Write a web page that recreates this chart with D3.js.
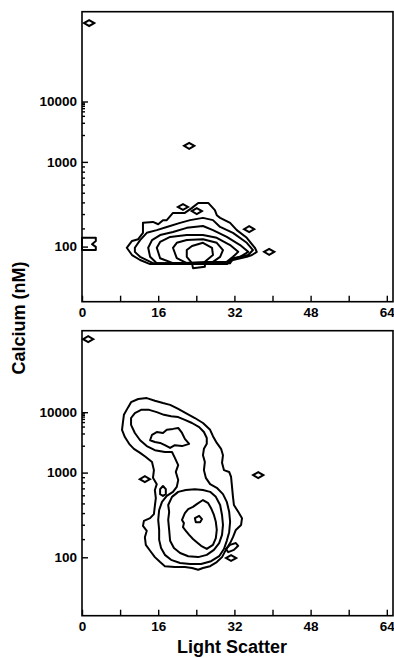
<!DOCTYPE html>
<html>
<head>
<meta charset="utf-8">
<script src="https://cdn.jsdelivr.net/npm/d3@7"></script>
<style>
  body { margin: 0; background: #fff; }
  svg { display: block; }
  .tick text { font-family: "Liberation Sans", Arial, sans-serif; font-weight: bold; font-size: 13.5px; fill: #000; }
  .tick line { stroke: #000; stroke-width: 1.4; }
  .axis-title { font-family: "Liberation Sans", Arial, sans-serif; font-weight: bold; font-size: 18px; fill: #000; }
</style>
</head>
<body>
<div id="chart"></div>
<script>
// axis ticks
const lightScatterTicks = [0, 8, 16, 24, 32, 40, 48, 56, 64];
const lightScatterLabels = [0, 16, 32, 48, 64];
const calciumTicks = [100, 1000, 10000];
const calciumMinorTicks = [200, 300, 400, 500, 600, 700, 800, 900, 2000, 3000, 4000, 5000, 6000, 7000, 8000, 9000];

// y is the fluorescence ratio channel (0-64); calcium labels sit where Kd*(R-Rmin)/(Rmax-R) puts them
const KD = 660, CH_MAX = 46.64, CH_SPAN = 26204;
function calciumToChannel(ca) { return CH_MAX - CH_SPAN / (KD + ca); }

// top panel contours, [light scatter, ratio channel]
const topLevel1 = [[9.4,11.9],[10.5,13.4],[11.8,13.8],[12.8,15.2],[12.8,17.4],[14.9,17.6],[16.0,17.1],[17.0,18.0],[17.8,18.0],[19.1,19.6],[21.6,19.6],[23.1,20.7],[24.4,21.8],[26.5,21.8],[27.9,20.2],[28.3,19.1],[29.0,18.5],[31.1,17.4],[32.5,15.8],[34.6,14.1],[36.3,11.9],[36.7,11.0],[35.7,10.3],[34.6,9.9],[31.7,9.2],[30.4,8.3],[25.8,8.3],[20.6,8.3],[16.4,8.3],[14.3,8.3],[12.2,9.2],[10.5,10.3]];
const topLevel2 = [[11.1,11.9],[12.2,13.6],[13.6,15.2],[15.7,15.8],[17.8,16.5],[20.6,17.4],[22.7,18.0],[25.4,18.5],[27.5,18.0],[29.0,16.5],[31.7,15.2],[34.6,13.0],[35.9,11.4],[34.9,10.3],[31.7,9.6],[31.1,8.5],[14.9,8.5],[12.2,9.9],[11.1,11.0]];
const topLevel3 = [[13.9,11.9],[14.7,13.6],[16.4,14.7],[19.1,15.4],[22.0,16.3],[25.4,16.7],[27.5,15.8],[30.4,14.3],[33.2,12.5],[34.9,11.0],[33.2,9.9],[31.1,9.2],[30.4,8.5],[15.7,8.5],[14.3,9.9]];
const topLevel4 = [[15.7,11.9],[16.4,13.2],[18.5,14.3],[22.0,14.7],[25.4,14.7],[28.3,14.1],[31.1,12.5],[32.8,11.0],[31.7,9.9],[30.4,8.8],[19.1,8.5],[16.4,9.6]];
const topLevel5 = [[19.1,11.9],[19.9,13.0],[22.0,13.6],[25.4,13.8],[28.3,13.0],[29.6,11.4],[29.0,9.9],[27.5,8.8],[22.0,8.5],[19.9,9.6]];
const topLevel6 = [[22.0,11.4],[23.1,12.3],[25.4,13.0],[27.3,11.9],[27.5,10.3],[25.8,8.8],[25.8,7.7],[23.3,7.4],[23.1,8.5],[22.0,9.9]];
const topEdge = [[0,14.1],[2.9,14.1],[2.9,13.4],[2.1,12.7],[2.9,12.1],[2.9,11.4],[0,11.4]];
const topEvents = [[1.5,61.5],[22.5,34.4],[21.2,20.9],[24.1,20.0],[35.1,16.0],[39.3,11.0]];

// bottom panel contours
const bottomLevel1 = [[9.7,45.3],[10.3,46.4],[11.8,47.1],[13.6,47.3],[15.3,46.7],[17.0,46.2],[18.5,45.8],[20.2,44.9],[21.8,44.0],[23.7,42.9],[25.4,41.8],[26.9,40.3],[27.5,38.9],[28.3,37.4],[29.2,36.1],[29.6,34.7],[29.4,33.0],[29.8,31.4],[30.9,31.0],[31.3,29.9],[31.5,27.7],[31.7,25.5],[31.9,23.7],[32.8,22.2],[33.6,20.8],[33.4,19.3],[32.3,18.2],[31.7,16.6],[31.1,15.3],[30.2,13.8],[29.4,12.2],[28.3,11.1],[26.9,10.2],[25.4,9.8],[24.4,9.4],[23.1,9.8],[21.6,10.0],[19.5,10.0],[17.4,10.2],[16.4,11.1],[15.3,12.2],[14.3,13.6],[13.4,14.9],[13.2,16.6],[13.6,18.0],[12.8,19.1],[13.0,20.2],[14.3,20.8],[15.1,21.7],[15.3,23.5],[15.5,25.2],[15.3,27.0],[15.7,28.3],[14.9,29.7],[15.1,31.4],[14.7,33.2],[13.4,34.3],[12.2,35.2],[10.9,36.1],[9.9,37.2],[9.0,38.7],[8.4,40.3],[8.6,42.0],[8.8,43.6]];
const bottomLevel2 = [[18.9,35.4],[17.4,35.4],[15.3,35.8],[13.6,36.7],[12.2,38.0],[11.1,39.6],[10.3,41.4],[10.3,42.9],[11.1,44.0],[12.4,44.7],[14.1,44.7],[15.7,44.2],[17.2,43.6],[18.7,43.3],[20.2,43.1],[21.6,42.5],[23.1,41.8],[24.6,40.9],[25.6,39.8],[26.2,38.5],[26.2,37.2],[25.6,36.1],[25.4,34.7],[25.8,33.2],[25.6,31.4],[26.0,29.7],[26.9,28.3],[28.3,27.5],[29.6,26.1],[30.4,24.4],[30.9,22.2],[31.1,20.0],[30.9,17.7],[30.4,15.8],[29.8,14.0],[28.8,12.4],[27.1,11.3],[25.0,10.7],[22.7,10.7],[20.6,10.9],[18.7,11.6],[17.4,12.7],[16.6,14.2],[16.2,16.0],[16.2,18.2],[16.0,20.4],[16.2,22.6],[16.8,24.4],[17.8,25.7],[19.1,26.6],[19.9,27.7],[20.2,29.2],[19.7,31.0],[20.2,32.5],[19.5,34.1]];
const bottomLevel3Upper = [[14.3,38.0],[14.7,39.2],[15.7,39.8],[17.0,39.6],[17.8,40.3],[19.1,40.5],[20.2,40.7],[21.0,39.6],[21.6,38.3],[22.5,37.2],[21.0,36.7],[19.5,36.9],[18.5,36.3],[17.4,36.9],[16.4,37.4],[15.3,37.6]];
const bottomLevel3Lower = [[18.1,23.7],[18.9,25.5],[20.2,26.6],[21.8,27.0],[23.7,27.2],[25.4,27.0],[26.9,26.6],[28.1,25.5],[29.0,23.7],[29.4,21.5],[29.6,19.3],[29.4,17.1],[28.8,15.3],[27.7,13.8],[26.2,12.7],[24.4,12.2],[22.3,12.4],[20.6,13.1],[19.3,14.2],[18.5,15.8],[18.3,18.2],[18.1,20.4],[18.3,22.2]];
const bottomLevel4 = [[21.0,20.4],[21.6,21.9],[22.3,22.8],[23.3,23.3],[24.1,23.9],[25.4,24.8],[26.5,24.1],[27.1,23.0],[27.7,21.5],[28.1,20.0],[28.3,18.2],[28.1,16.4],[27.5,14.9],[26.2,14.0],[25.0,14.7],[24.1,15.5],[23.3,16.2],[22.5,17.1],[21.8,18.0],[21.2,18.8],[21.4,19.7]];
const bottomLevel5 = [[23.7,20.8],[24.6,21.3],[25.2,20.6],[24.8,19.9],[23.9,19.9]];
const bottomIslandA = [[16.4,27.2],[17.0,27.9],[17.6,27.2],[17.6,26.1],[17.0,25.7],[16.4,26.1]];
const bottomIslandB = [[30.2,14.0],[31.1,14.9],[32.3,15.3],[32.8,14.7],[31.9,13.8],[30.7,13.3]];
const bottomEvents = [[1.3,60.3],[37.0,30.3],[13.2,29.4],[31.3,12.0]];

const width = 394, height = 658;
const svg = d3.select('#chart').append('svg').attr('width', width).attr('height', height);

const x = d3.scaleLinear().domain([0, 65.3]).range([82, 393]);

const panels = [
  { yDomain: [0, 64], yRange: [301.7, 11.7],
    contours: [topLevel1, topLevel2, topLevel3, topLevel4, topLevel5, topLevel6, topEdge], events: topEvents },
  { yDomain: [-0.73, 62.17], yRange: [615.7, 330.7],
    contours: [bottomLevel1, bottomLevel2, bottomLevel3Upper, bottomLevel3Lower, bottomLevel4, bottomLevel5, bottomIslandA, bottomIslandB], events: bottomEvents }
];

function drawPanel(panel) {
  const y = d3.scaleLinear().domain(panel.yDomain).range(panel.yRange);
  const g = svg.append('g');

  // x axis, ticks point inward
  g.append('g')
    .attr('transform', 'translate(0,' + panel.yRange[0] + ')')
    .call(d3.axisBottom(x).tickValues(lightScatterTicks)
      .tickSizeInner(-6).tickSizeOuter(0).tickPadding(6)
      .tickFormat(d => lightScatterLabels.includes(d) ? d : ''));

  // y axis, minor then major
  g.append('g')
    .attr('transform', 'translate(' + x.range()[0] + ',0)')
    .call(d3.axisLeft(y).tickValues(calciumMinorTicks.map(calciumToChannel))
      .tickSizeInner(-3).tickSizeOuter(0).tickFormat(''));
  g.append('g')
    .attr('transform', 'translate(' + x.range()[0] + ',0)')
    .call(d3.axisLeft(y).tickValues(calciumTicks.map(calciumToChannel))
      .tickSizeInner(-6).tickSizeOuter(0).tickPadding(5)
      .tickFormat((d, i) => calciumTicks[i]));

  g.selectAll('.domain').remove();

  g.append('rect')
    .attr('x', x.range()[0]).attr('y', panel.yRange[1])
    .attr('width', x.range()[1] - x.range()[0])
    .attr('height', panel.yRange[0] - panel.yRange[1])
    .attr('fill', 'none').attr('stroke', '#000').attr('stroke-width', 1.6);

  const line = d3.line()
    .x(d => x(d[0]))
    .y(d => y(d[1]))
    .curve(d3.curveLinearClosed);

  g.selectAll('path.contour')
    .data(panel.contours)
    .join('path')
    .attr('class', 'contour')
    .attr('d', line)
    .attr('fill', 'none')
    .attr('stroke', '#000')
    .attr('stroke-width', 2)
    .attr('stroke-linejoin', 'round');

  // single-cell islands drawn as small diamonds
  const diamond = d3.symbol().type(d3.symbolDiamond).size(30);
  g.selectAll('path.event')
    .data(panel.events)
    .join('path')
    .attr('class', 'event')
    .attr('transform', d => 'translate(' + x(d[0]) + ',' + y(d[1]) + ') rotate(90)')
    .attr('d', diamond)
    .attr('fill', 'none')
    .attr('stroke', '#000')
    .attr('stroke-width', 2);
}

panels.forEach(drawPanel);

svg.append('text')
  .attr('class', 'axis-title')
  .attr('transform', 'translate(25,318) rotate(-90)')
  .attr('text-anchor', 'middle')
  .text('Calcium (nM)');

svg.append('text')
  .attr('class', 'axis-title')
  .attr('x', 232).attr('y', 653)
  .attr('text-anchor', 'middle')
  .text('Light Scatter');
</script>
</body>
</html>
